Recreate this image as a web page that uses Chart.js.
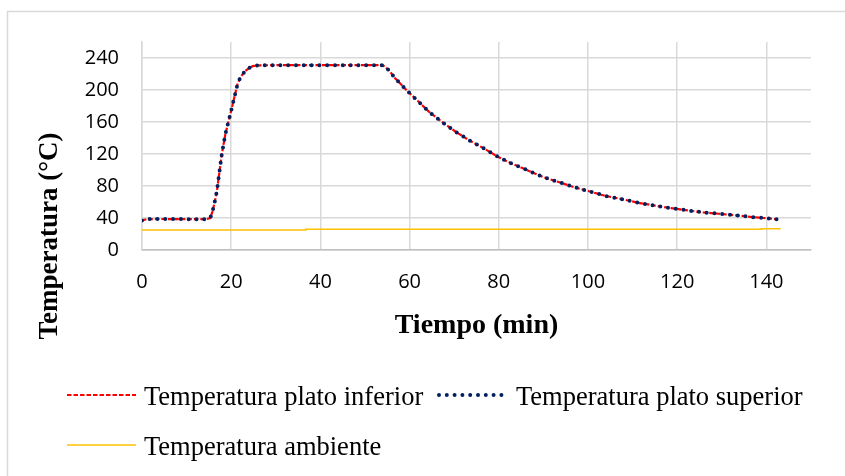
<!DOCTYPE html>
<html>
<head>
<meta charset="utf-8">
<script src="https://cdn.jsdelivr.net/npm/chart.js@4"></script>
<style>
  html, body { margin: 0; padding: 0; background: #ffffff; }
  canvas { display: block; }
</style>
</head>
<body>
<canvas id="grafico" width="845" height="476"></canvas>
<script>
// Tiempo (min) de las lecturas de los platos
const tiempoPlatos = [
  0, 1, 3, 6, 9, 12, 14.5, 15.3, 15.8, 16.3, 16.8, 17.3, 17.9, 18.7, 19.5, 20.2, 20.8,
  21.4, 22.0, 22.6, 23.2, 24.0, 24.8, 26, 30, 40, 50, 54,
  55.5, 56.6, 57.9, 59.2, 61.8, 64.4, 67.4, 70.4, 73.4, 76.5, 79.8, 83.1, 86.5,
  90.0, 93.4, 96.9, 100.2, 104.0, 107.7, 111.3, 114.7, 118.6, 122.3, 125.8,
  129.4, 133.1, 136.8, 140.5, 142.5
];
// Temperatura del plato inferior (°C)
const platoInferior = [
  37, 38.5, 38.8, 38.7, 38.6, 38.5, 38.6, 40, 48, 60, 74, 95, 120, 145, 163, 179, 193,
  207, 215, 220, 224, 227.5, 229.8, 230.8, 231, 231, 231, 231,
  224, 215.5, 208, 200.5, 186.5, 172.5, 159.5, 147.5, 137, 127.5, 116.5, 107.5, 99.5,
  91, 85, 78.5, 73.5, 67.5, 63.5, 59, 55.7, 52.4, 49.5, 47,
  45.3, 43.3, 41.2, 39.5, 38.3
];
// Temperatura del plato superior (°C)
const platoSuperior = [
  37, 38.5, 38.8, 38.7, 38.6, 38.5, 38.6, 40, 48, 60, 74, 95, 120, 145, 163, 179, 193,
  207, 215, 220, 224, 227.5, 229.8, 230.8, 231, 231, 231, 231,
  224, 215.5, 208, 200.5, 186.5, 172.5, 159.5, 147.5, 137, 127.5, 116.5, 107.5, 99.5,
  91, 85, 78.5, 73.5, 67.5, 63.5, 59, 55.7, 52.4, 49.5, 47,
  45.3, 43.3, 41.2, 39.5, 38.3
];
// Temperatura ambiente (°C)
const tiempoAmbiente = [0, 36.6, 36.7, 138.8, 138.9, 143.2];
const ambiente = [25, 25, 25.8, 25.8, 26.5, 26.5];

const xTicks = [0, 20, 40, 60, 80, 100, 120, 140];
const yTicks = [0, 40, 80, 120, 160, 200, 240];
const nombres = ['Temperatura plato inferior', 'Temperatura plato superior', 'Temperatura ambiente'];
const tituloX = 'Tiempo (min)';
const tituloY = 'Temperatura (°C)';

const puntos = (xs, ys) => xs.map((x, i) => ({ x: x, y: ys[i] }));

// Marco, títulos de ejes y leyenda dibujados sobre el lienzo
const decoracion = {
  id: 'decoracion',
  beforeDraw(chart) {
    const ctx = chart.ctx;
    ctx.save();
    ctx.strokeStyle = '#d9d9d9';
    ctx.lineWidth = 1.5;
    ctx.strokeRect(7.5, 11.5, 900, 500);
    ctx.restore();
  },
  afterDraw(chart) {
    const ctx = chart.ctx;
    const a = chart.chartArea;
    ctx.save();
    ctx.fillStyle = '#000000';
    ctx.textAlign = 'center';
    ctx.textBaseline = 'alphabetic';
    ctx.font = 'bold 28px "Liberation Serif"';
    ctx.fillText(tituloX, (a.left + a.right) / 2, 333);
    ctx.save();
    ctx.font = 'bold 27px "Liberation Serif"';
    ctx.translate(57, 236);
    ctx.rotate(-Math.PI / 2);
    ctx.fillText(tituloY, 0, 0);
    ctx.restore();

    const casillas = [{ x: 67, y: 395 }, { x: 439, y: 395 }, { x: 67, y: 445 }];
    ctx.font = '26.5px "Liberation Serif"';
    ctx.textAlign = 'left';
    chart.data.datasets.forEach((ds, i) => {
      const c = casillas[i];
      ctx.save();
      ctx.strokeStyle = ds.borderColor;
      ctx.lineWidth = ds.borderWidth;
      ctx.lineCap = ds.borderCapStyle || 'butt';
      ctx.setLineDash(ds.borderDash || []);
      ctx.beginPath();
      ctx.moveTo(c.x, c.y);
      ctx.lineTo(c.x + 69, c.y);
      ctx.stroke();
      ctx.restore();
      ctx.fillText(ds.label, c.x + 77, c.y + 9.5);
    });
    ctx.restore();
  }
};

new Chart(document.getElementById('grafico'), {
  type: 'line',
  data: {
    datasets: [
      {
        label: nombres[0],
        data: puntos(tiempoPlatos, platoInferior),
        borderColor: '#ff0000',
        borderWidth: 2.2,
        borderDash: [4.5, 2],
        pointRadius: 0,
        fill: false,
        order: 2
      },
      {
        label: nombres[1],
        data: puntos(tiempoPlatos, platoSuperior),
        borderColor: '#002060',
        borderWidth: 4,
        borderDash: [0, 7.8],
        borderCapStyle: 'round',
        pointRadius: 0,
        fill: false,
        order: 1
      },
      {
        label: nombres[2],
        data: puntos(tiempoAmbiente, ambiente),
        borderColor: '#ffc000',
        borderWidth: 1.5,
        pointRadius: 0,
        fill: false,
        order: 3
      }
    ]
  },
  options: {
    responsive: false,
    animation: false,
    devicePixelRatio: 1,
    layout: { padding: { top: 42, right: 34, left: 0, bottom: 0 } },
    plugins: {
      legend: { display: false },
      tooltip: { enabled: false },
      title: { display: false }
    },
    scales: {
      x: {
        type: 'linear',
        min: 0,
        max: 150,
        afterBuildTicks: (s) => { s.ticks = xTicks.map(v => ({ value: v })); },
        afterFit: (s) => { s.height = 226; },
        grid: { color: '#d9d9d9', lineWidth: 1.5, drawTicks: false },
        border: { color: '#bfbfbf', width: 1.5 },
        ticks: {
          padding: 20,
          maxRotation: 0,
          color: '#000000',
          font: { family: '"Open Sans"', size: 20 }
        }
      },
      y: {
        type: 'linear',
        min: 0,
        max: 260,
        afterBuildTicks: (s) => { s.ticks = yTicks.map(v => ({ value: v })); },
        afterFit: (s) => { s.width = 142; },
        grid: { color: '#d9d9d9', lineWidth: 1.5, drawTicks: false },
        border: { color: '#d9d9d9', width: 1.5 },
        ticks: {
          padding: 23,
          color: '#000000',
          font: { family: '"Open Sans"', size: 20 }
        }
      }
    }
  },
  plugins: [decoracion]
});
</script>
</body>
</html>
